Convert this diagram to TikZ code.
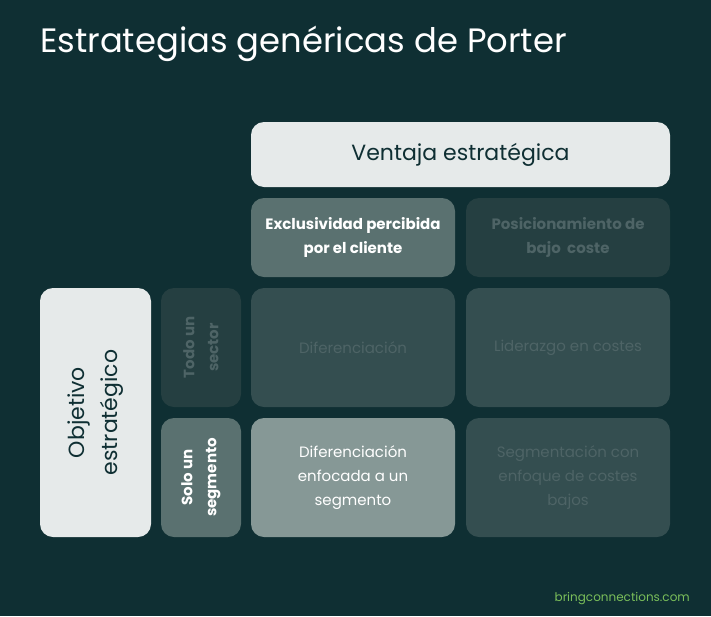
\documentclass[tikz,border=0pt]{standalone}
\usepackage{fontspec}
\setmainfont{Poppins}
\usepackage{xcolor}
\usepackage{tikz}
\usetikzlibrary{positioning}
\definecolor{bgteal}{RGB}{15,47,51}
\definecolor{lightcell}{RGB}{230,234,234}
\definecolor{midcell}{RGB}{90,113,112}
\definecolor{darkcell}{RGB}{37,63,65}
\definecolor{gridcell}{RGB}{52,78,80}
\definecolor{focuscell}{RGB}{134,152,150}
\definecolor{dimtext}{RGB}{78,100,102}
\definecolor{webgreen}{RGB}{122,190,90}
\tikzset{
  cell/.style={rectangle, rounded corners=13pt, inner sep=0pt, align=center,
               font=\fontsize{15}{24}\selectfont},
  headcell/.style={cell, fill=lightcell, text=bgteal, font=\fontsize{22}{33}\selectfont},
  activecell/.style={cell, fill=midcell, text=white, font=\fontsize{15}{24}\selectfont\bfseries},
  mutedcell/.style={cell, fill=darkcell, text=dimtext, font=\fontsize{15}{24}\selectfont\bfseries},
  optcell/.style={cell, fill=gridcell, text=dimtext},
  pickcell/.style={cell, fill=focuscell, text=white},
  wide/.style={minimum width=204pt},
  tallrow/.style={minimum height=119pt},
  side/.style={rotate=90, minimum width=119pt, minimum height=80pt}
}
\begin{document}
\begin{tikzpicture}[x=1pt, y=-1pt]
\fill[bgteal] (0,0) rectangle (711,616);
\useasboundingbox (0,0) rectangle (711,616);
\node[anchor=base west, text=white, inner sep=0pt, font=\fontsize{33.8}{40}\selectfont] (title) at (40,52) {Estrategias genéricas de Porter};
% column heads
\node[headcell, minimum width=419pt, minimum height=65pt] (ventaja) at (460.5,154.5) {Ventaja estratégica};
\node[activecell, wide, minimum height=79pt] (exclu) at (353,237.5) {Exclusividad percibida\\por el cliente};
\node[mutedcell, wide, minimum height=79pt] (posic) at (568,237.5) {Posicionamiento de\\bajo\ \ coste};
% row heads
\node[headcell, rotate=90, minimum width=249pt, minimum height=111pt] (objetivo) at (95.5,412.5) {Objetivo\\estratégico};
\node[mutedcell, side] (todo) at (201,347.5) {Todo un\\sector};
\node[activecell, side] (solo) at (201,477.5) {Solo un\\segmento};
% strategies
\node[optcell, wide, tallrow] (difer) at (353,347.5) {Diferenciación};
\node[optcell, wide, tallrow] (lider) at (568,347.5) {Liderazgo en costes};
\node[pickcell, wide, tallrow] (enfoc) at (353,477.5) {Diferenciación\\enfocada a un\\segmento};
\node[optcell, wide, tallrow] (segm) at (568,477.5) {Segmentación con\\enfoque de costes\\bajos};
\node[anchor=base east, inner sep=0pt, text=webgreen, font=\fontsize{12}{14}\selectfont] (web) at (690,601) {bringconnections.com};
\end{tikzpicture}
\end{document}
